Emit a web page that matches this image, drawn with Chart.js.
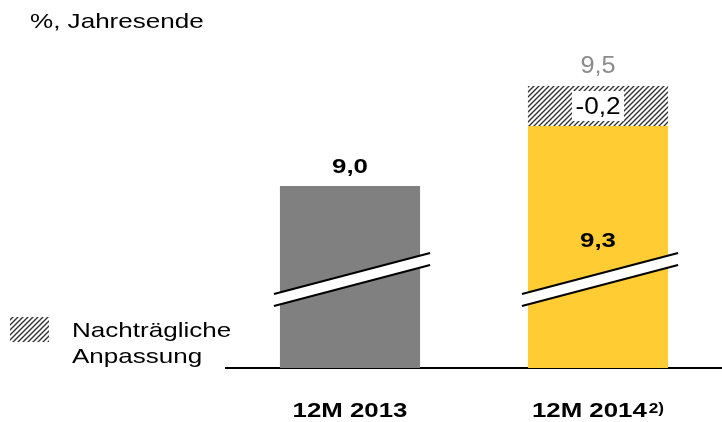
<!DOCTYPE html>
<html lang="de">
  <head>
    <meta charset="UTF-8" />
    <title>Jahresende</title>
    <script src="https://cdn.jsdelivr.net/npm/chart.js"></script>
    <style>
      body { margin: 0; background: #fff; font-family: "Liberation Sans", Arial, sans-serif; }
      #wrap { position: relative; width: 722px; height: 422px; }
      .txt {
        position: absolute; font-size: 21px; color: #000; white-space: nowrap;
        transform: scaleX(1.24); transform-origin: left top;
      }
      #unit { left: 30px; top: 9px; line-height: 24px; }
      #legend { left: 72px; top: 317px; line-height: 26px; }
    </style>
  </head>
  <body>
    <div id="wrap">
      <canvas id="chart" width="722" height="422"></canvas>
      <div class="txt" id="unit">%, Jahresende</div>
      <div class="txt" id="legend">Nachträgliche<br />Anpassung</div>
    </div>
    <script>
      // data
      const categories = ["12M 2013", "12M 2014"];
      const superscripts = ["", "2)"];
      const baseValues = [9.0, 9.3];
      const adjustValues = [null, 0.2];
      const baseLabels = ["9,0", "9,3"];
      const adjustLabels = [null, "-0,2"];
      const totalLabels = [null, "9,5"];

      const FONT = '"Liberation Sans", Arial, sans-serif';
      const SX = 1.23; // text in the original is a bit wider than Arial

      function makeHatch() {
        const c = document.createElement("canvas");
        c.width = 5; c.height = 5;
        const g = c.getContext("2d");
        g.fillStyle = "#fff";
        g.fillRect(0, 0, 5, 5);
        g.strokeStyle = "#333";
        g.lineWidth = 1.4;
        g.beginPath();
        g.moveTo(-1, 6); g.lineTo(6, -1);
        g.moveTo(-1, 1); g.lineTo(1, -1);
        g.moveTo(4, 6); g.lineTo(6, 4);
        g.stroke();
        return g.createPattern(c, "repeat");
      }
      const hatch = makeHatch();

      function drawText(ctx, text, x, y, font, sx, align, color) {
        ctx.save();
        ctx.font = font;
        const w = ctx.measureText(text).width * sx;
        const left = align === "center" ? x - w / 2 : x;
        ctx.translate(left, y);
        ctx.scale(sx, 1);
        ctx.textAlign = "left";
        ctx.textBaseline = "alphabetic";
        ctx.fillStyle = color || "#000";
        ctx.fillText(text, 0, 0);
        ctx.restore();
        return w;
      }

      // axis break bands + value labels + legend swatch
      const decoPlugin = {
        id: "deco",
        afterDatasetsDraw(chart) {
          const ctx = chart.ctx;
          const bottom = chart.scales.y.bottom;
          const slope = 41 / 156;
          ctx.save();
          chart.getDatasetMeta(0).data.forEach((bar, i) => {
            const x0 = bar.x - bar.width / 2 - 6;
            const x1 = bar.x + bar.width / 2 + 10;
            const yc = bottom - 94;
            const y = (x) => yc - (x - bar.x) * slope;
            ctx.fillStyle = "#fff";
            ctx.beginPath();
            ctx.moveTo(x0, y(x0)); ctx.lineTo(x1, y(x1));
            ctx.lineTo(x1, y(x1) + 12); ctx.lineTo(x0, y(x0) + 12);
            ctx.closePath();
            ctx.fill();
            ctx.strokeStyle = "#000";
            ctx.lineWidth = 2;
            ctx.beginPath();
            ctx.moveTo(x0, y(x0)); ctx.lineTo(x1, y(x1));
            ctx.moveTo(x0, y(x0) + 12); ctx.lineTo(x1, y(x1) + 12);
            ctx.stroke();

            const hasAdj = adjustValues[i] != null;
            drawText(ctx, baseLabels[i], bar.x, hasAdj ? bottom - 121 : bar.y - 13,
              "bold 21px " + FONT, SX, "center");
          });

          chart.getDatasetMeta(1).data.forEach((bar, i) => {
            if (adjustValues[i] == null) return;
            const mid = (bar.y + bar.base) / 2;
            ctx.fillStyle = "#fff";
            ctx.fillRect(bar.x - 26, mid - 15, 52, 30);
            drawText(ctx, adjustLabels[i], bar.x, mid + 8, "24px " + FONT, 1.09, "center");
            drawText(ctx, totalLabels[i], bar.x, bar.y - 13, "23px " + FONT, 1.1, "center", "#8c8c8c");
          });

          // category labels with superscript
          const xs = chart.scales.x;
          categories.forEach((cat, i) => {
            const cx = xs.getPixelForValue(i);
            ctx.font = "bold 21px " + FONT;
            const w1 = ctx.measureText(cat).width * SX;
            ctx.font = "bold 14px " + FONT;
            const w2 = superscripts[i] ? ctx.measureText(superscripts[i]).width * SX + 2 : 0;
            const left = cx - (w1 + w2) / 2;
            drawText(ctx, cat, left, bottom + 49, "bold 21px " + FONT, SX, "left");
            if (superscripts[i]) {
              drawText(ctx, superscripts[i], left + w1 + 2, bottom + 45, "bold 14px " + FONT, SX, "left");
            }
          });

          // legend swatch
          ctx.fillStyle = hatch;
          ctx.fillRect(10, 317, 39, 25);
          ctx.restore();
        },
      };

      new Chart(document.getElementById("chart"), {
        type: "bar",
        data: {
          labels: categories,
          datasets: [
            {
              label: "Basis",
              data: baseValues,
              backgroundColor: ["#808080", "#ffcc33"],
              barPercentage: 0.565,
              categoryPercentage: 1,
            },
            {
              label: "Nachträgliche Anpassung",
              data: adjustValues,
              backgroundColor: hatch,
              barPercentage: 0.565,
              categoryPercentage: 1,
            },
          ],
        },
        options: {
          responsive: false,
          animation: false,
          layout: { padding: { left: 226, right: 0, top: 40, bottom: 54 } },
          scales: {
            x: {
              stacked: true,
              grid: { display: false, drawTicks: false },
              border: { display: true, color: "#000", width: 2 },
              ticks: { display: false },
            },
            y: {
              stacked: true,
              display: false,
              min: 8.09,
              max: 9.73,
            },
          },
          plugins: {
            legend: { display: false },
            tooltip: { enabled: false },
          },
        },
        plugins: [decoPlugin],
      });
    </script>
  </body>
</html>
